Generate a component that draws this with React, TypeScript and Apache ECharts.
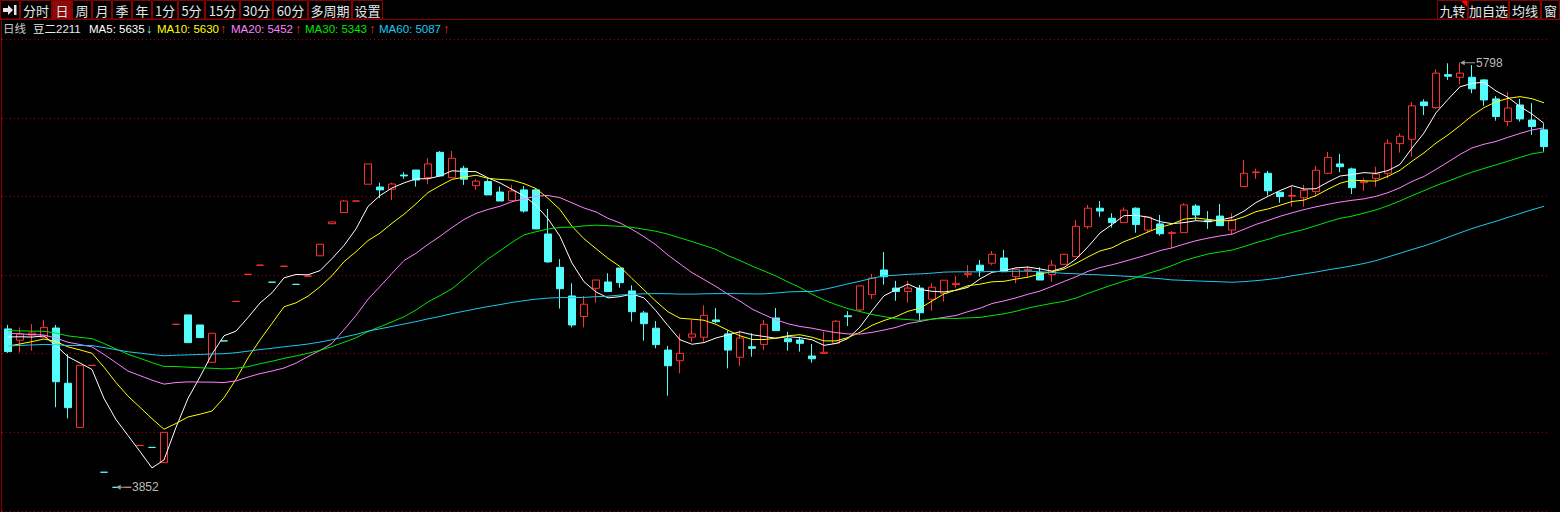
import React, { useEffect, useRef } from 'react';
import * as echarts from 'echarts';

// ---- data ----
// closes before the first visible day, used only to start the moving averages
const historyClose = [
  4415, 4428, 4441, 4436, 4422, 4419, 4433, 4447, 4438, 4426,
  4418, 4430, 4444, 4437, 4425, 4421, 4434, 4440, 4429, 4417,
  4424, 4436, 4443, 4431, 4420, 4427, 4439, 4433, 4422, 4426,
  4580, 4598, 4605, 4589, 4596, 4610, 4587, 4592, 4601, 4582,
  4608, 4622, 4630, 4611, 4603, 4619, 4627, 4612, 4605, 4623,
  4462, 4451, 4466, 4455, 4456,
  4552, 4565, 4560, 4555,
];

const openPrices = [
  4578, 4526, 4550, 4540, 4582, 4329, 4127, 4411, 3921, 3852,
  3852, 4044, 4035, 3965, 4599, 4642, 4596, 4425, 4523, 4704,
  4828, 4870, 4792, 4865, 4782, 4820, 4913, 5060, 5111, 5164,
  5241, 5228, 5218, 5283, 5306, 5271, 5387, 5271, 5314, 5234,
  5253, 5205, 5166, 5215, 5215, 5013, 4860, 4729, 4635, 4764,
  4793, 4857, 4752, 4651, 4581, 4481, 4432, 4540, 4540, 4619,
  4555, 4448, 4496, 4507, 4628, 4533, 4527, 4454, 4466, 4512,
  4638, 4665, 4735, 4848, 4765, 4749, 4765, 4714, 4741, 4781,
  4827, 4870, 4879, 4903, 4817, 4845, 4836, 4827, 4874, 4909,
  5046, 5131, 5085, 5065, 5131, 5031, 5059, 5016, 5019, 5141,
  5074, 5095, 5031, 5230, 5294, 5291, 5204, 5186, 5179, 5207,
  5291, 5334, 5311, 5248, 5268, 5291, 5427, 5447, 5618, 5592,
  5743, 5731, 5731, 5719, 5632, 5528, 5604, 5535, 5490,
];
const closePrices = [
  4474, 4555, 4559, 4585, 4336, 4217, 4411, 4411, 3921, 3852,
  3852, 4044, 4035, 4104, 4599, 4515, 4538, 4558, 4523, 4704,
  4828, 4870, 4792, 4865, 4782, 4820, 4966, 5068, 5164, 5164,
  5334, 5215, 5242, 5279, 5260, 5334, 5279, 5360, 5264, 5255,
  5192, 5164, 5210, 5118, 5036, 4885, 4762, 4596, 4691, 4802,
  4749, 4790, 4657, 4602, 4506, 4409, 4466, 4555, 4640, 4611,
  4481, 4536, 4489, 4599, 4570, 4519, 4512, 4441, 4471, 4613,
  4634, 4775, 4811, 4817, 4749, 4765, 4652, 4769, 4801, 4787,
  4833, 4845, 4920, 4840, 4851, 4851, 4802, 4870, 4920, 5048,
  5131, 5118, 5065, 5122, 5056, 5090, 5014, 5019, 5146, 5100,
  5069, 5051, 5077, 5291, 5297, 5211, 5184, 5189, 5213, 5305,
  5364, 5321, 5225, 5255, 5288, 5429, 5461, 5600, 5601, 5750,
  5736, 5750, 5678, 5627, 5551, 5590, 5540, 5505, 5413,
];
const lowPrices = [
  4468, 4469, 4478, 4540, 4219, 4168, 4127, 4411, 3921, 3852,
  3852, 4044, 4035, 3965, 4599, 4515, 4538, 4425, 4523, 4704,
  4828, 4870, 4792, 4865, 4782, 4820, 4913, 5060, 5111, 5164,
  5241, 5177, 5169, 5266, 5230, 5241, 5279, 5271, 5238, 5215,
  5192, 5164, 5166, 5111, 5036, 4881, 4671, 4585, 4585, 4698,
  4749, 4767, 4611, 4524, 4489, 4272, 4374, 4519, 4519, 4604,
  4397, 4409, 4451, 4481, 4570, 4478, 4474, 4423, 4466, 4512,
  4591, 4654, 4715, 4781, 4707, 4698, 4619, 4661, 4703, 4767,
  4813, 4817, 4870, 4840, 4787, 4817, 4802, 4794, 4870, 4909,
  5036, 5092, 5042, 5065, 5019, 5019, 5005, 4947, 5019, 5077,
  5036, 5051, 5012, 5230, 5266, 5189, 5156, 5138, 5138, 5184,
  5287, 5296, 5196, 5211, 5230, 5268, 5386, 5368, 5558, 5586,
  5719, 5700, 5658, 5600, 5532, 5508, 5528, 5467, 5390,
];
const highPrices = [
  4596, 4585, 4600, 4619, 4596, 4462, 4411, 4411, 3921, 3852,
  3852, 4044, 4035, 4104, 4599, 4642, 4596, 4558, 4523, 4704,
  4828, 4870, 4792, 4865, 4782, 4820, 4966, 5068, 5169, 5164,
  5334, 5248, 5248, 5296, 5306, 5360, 5393, 5393, 5325, 5264,
  5264, 5230, 5238, 5233, 5222, 5128, 4898, 4787, 4729, 4802,
  4833, 4857, 4778, 4660, 4614, 4500, 4555, 4619, 4686, 4674,
  4570, 4570, 4558, 4619, 4674, 4564, 4542, 4509, 4565, 4619,
  4659, 4775, 4830, 4930, 4798, 4798, 4779, 4787, 4801, 4820,
  4870, 4894, 4935, 4940, 4851, 4865, 4860, 4894, 4920, 5077,
  5146, 5164, 5108, 5135, 5135, 5090, 5100, 5027, 5154, 5150,
  5118, 5150, 5108, 5352, 5312, 5302, 5207, 5230, 5238, 5325,
  5389, 5380, 5317, 5268, 5321, 5447, 5474, 5617, 5630, 5768,
  5795, 5798, 5787, 5722, 5645, 5664, 5632, 5612, 5518,
];

const maPeriods = [5, 10, 20, 30, 60];
const maLegendValues = [5635, 5630, 5452, 5343, 5087];
const maLegendTrend = ['down', 'up', 'up', 'up', 'up'];

const contractName = '豆二2211';
const periodName = '日线';
const toolbarLeftLabels = ['分时', '日', '周', '月', '季', '年', '1分', '5分', '15分', '30分', '60分', '多周期', '设置'];
const toolbarRightLabels = ['九转', '加自选', '均线', '窗'];

// ---- style ----
const UP = '#ff3232';
const DOWN = '#54fcfc';
const maColors = ['#ffffff', '#ffff00', '#ff80ff', '#00e600', '#1ec8f0'];
const FRAME = '#8c0000';

export default function App() {
  const ref = useRef<HTMLDivElement>(null);

  useEffect(() => {
    const el = ref.current;
    if (!el) return;
    const chart = echarts.init(el, null, { renderer: 'svg' });

    const categories = openPrices.map((_, i) => String(i));
    const allClose = historyClose.concat(closePrices);
    const maSeries = maPeriods.map((n) =>
      closePrices.map((_, i) => {
        const end = historyClose.length + i;
        let s = 0;
        for (let k = end - n + 1; k <= end; k++) s += allClose[k];
        return +(s / n).toFixed(2);
      })
    );
    const kData = openPrices.map((o, i) => [o, closePrices[i], lowPrices[i], highPrices[i]]);

    let hiIdx = 0;
    let loIdx = 0;
    highPrices.forEach((v, i) => { if (v > highPrices[hiIdx]) hiIdx = i; });
    lowPrices.forEach((v, i) => { if (v < lowPrices[loIdx]) loIdx = i; });

    const arrow = 'path://M0,2.5L5,0L5,2L16,2L16,3L5,3L5,5Z';
    const extremePoint = (idx: number, val: number) => ({
      coord: [String(idx), val],
      value: val,
      symbol: arrow,
      symbolSize: [15, 5],
      symbolOffset: [7.5, 0],
      itemStyle: { color: '#a0a0a0' },
      label: {
        show: true,
        position: 'right',
        distance: 1,
        formatter: String(val),
        color: '#bcbcbc',
        fontSize: 12,
        fontFamily: '"Liberation Sans", Arial, sans-serif',
      },
    });

    // toolbar graphics
    const leftEdges = [20, 52, 72, 92, 112, 132, 152, 178, 205, 240, 273, 308, 352, 383];
    const rightEdges = [1437, 1468, 1509, 1541, 1560];
    const graphics: any[] = [];
    graphics.push({
      type: 'line', shape: { x1: 0, y1: 19.5, x2: 1560, y2: 19.5 },
      style: { stroke: FRAME, lineWidth: 1 }, silent: true,
    });
    graphics.push({
      type: 'line', shape: { x1: 1.5, y1: 20, x2: 1.5, y2: 512 },
      style: { stroke: FRAME, lineWidth: 1 }, silent: true,
    });
    // first icon
    graphics.push({
      type: 'rect', shape: { x: 0.5, y: 0.5, width: 19, height: 18.5 },
      style: { fill: 'transparent', stroke: FRAME, lineWidth: 1 }, silent: true,
    });
    graphics.push({
      type: 'polygon',
      shape: { points: [[3, 8], [8, 8], [8, 5], [13, 10], [8, 15], [8, 12], [3, 12]] },
      style: { fill: '#e6e6e6' }, silent: true,
    });
    graphics.push({
      type: 'rect', shape: { x: 14, y: 5, width: 2.5, height: 10 },
      style: { fill: '#e6e6e6' }, silent: true,
    });
    const addButtons = (labels: string[], edges: number[], selected: string) => {
      labels.forEach((lab, i) => {
        const x0 = edges[i];
        const x1 = edges[i + 1];
        graphics.push({
          type: 'rect', shape: { x: x0 + 0.5, y: 0.5, width: x1 - x0 - 1, height: 18.5 },
          style: { fill: lab === selected ? '#8c0a0a' : 'transparent', stroke: FRAME, lineWidth: 1 },
          silent: true,
        });
        graphics.push({
          type: 'text', x: (x0 + x1) / 2, y: 10,
          style: {
            text: lab, fill: '#e6e6e6', align: 'center', verticalAlign: 'middle',
            font: '13px "Noto Sans CJK SC", sans-serif',
          },
          silent: true,
        });
      });
    };
    addButtons(toolbarLeftLabels, leftEdges, '日');
    addButtons(toolbarRightLabels, rightEdges, '');
    graphics.push({
      type: 'polygon', shape: { points: [[1461, 1], [1467, 1], [1467, 7]] },
      style: { fill: '#ff0000' }, silent: true,
    });

    // legend line
    const legendFont = '11.5px "Liberation Sans", "Noto Sans CJK SC", sans-serif';
    const arrowFont = '12.5px "Liberation Sans", sans-serif';
    const legendItems: { t: string; x: number; c: string; f: string }[] = [
      { t: periodName, x: 3, c: '#cccccc', f: legendFont },
      { t: contractName, x: 33, c: '#e8e8e8', f: legendFont },
    ];
    const maX = [89, 157, 231, 305, 379];
    const arrowX = [146, 220, 295, 369, 443];
    maPeriods.forEach((n, k) => {
      legendItems.push({ t: `MA${n}: ${maLegendValues[k]}`, x: maX[k], c: maColors[k], f: legendFont });
      legendItems.push({
        t: maLegendTrend[k] === 'down' ? '↓' : '↑',
        x: arrowX[k],
        c: maLegendTrend[k] === 'down' ? DOWN : '#ff2020',
        f: arrowFont,
      });
    });
    legendItems.forEach((it) => {
      graphics.push({
        type: 'text', x: it.x, y: 29,
        style: { text: it.t, fill: it.c, align: 'left', verticalAlign: 'middle', font: it.f },
        silent: true,
      });
    });

    const option: any = {
      animation: false,
      backgroundColor: '#000000',
      grid: { left: 2, right: 10, top: 39.3, bottom: 1.1, containLabel: false },
      xAxis: {
        type: 'category', data: categories, boundaryGap: true,
        axisLine: { show: false }, axisTick: { show: false }, axisLabel: { show: false }, splitLine: { show: false },
      },
      yAxis: [
        {
          type: 'value', min: 3744, max: 5905, scale: true,
          axisLine: { show: false }, axisTick: { show: false }, axisLabel: { show: false }, splitLine: { show: false },
        },
        {
          type: 'value', min: 0, max: 6, interval: 1,
          axisLine: { show: false }, axisTick: { show: false }, axisLabel: { show: false },
          splitLine: { show: true, lineStyle: { color: '#9a0000', type: [1, 3], width: 1 } },
        },
      ],
      graphic: graphics,
      series: [
        {
          type: 'candlestick',
          data: kData,
          barWidth: 8,
          itemStyle: {
            color: '#000000',
            color0: DOWN,
            borderColor: UP,
            borderColor0: DOWN,
            borderWidth: 1,
          },
          markPoint: {
            silent: true,
            animation: false,
            data: [extremePoint(hiIdx, highPrices[hiIdx]), extremePoint(loIdx, lowPrices[loIdx])],
          },
          z: 2,
        },
        ...maSeries.map((d, k) => ({
          type: 'line',
          name: `MA${maPeriods[k]}`,
          data: d,
          showSymbol: false,
          symbol: 'none',
          smooth: false,
          lineStyle: { color: maColors[k], width: 1 },
          z: 3,
          silent: true,
        })),
      ],
    };
    chart.setOption(option);
    return () => chart.dispose();
  }, []);

  return (
    <div
      ref={ref}
      style={{ position: 'fixed', left: 0, top: 0, width: 1560, height: 512, background: '#000' }}
    />
  );
}
